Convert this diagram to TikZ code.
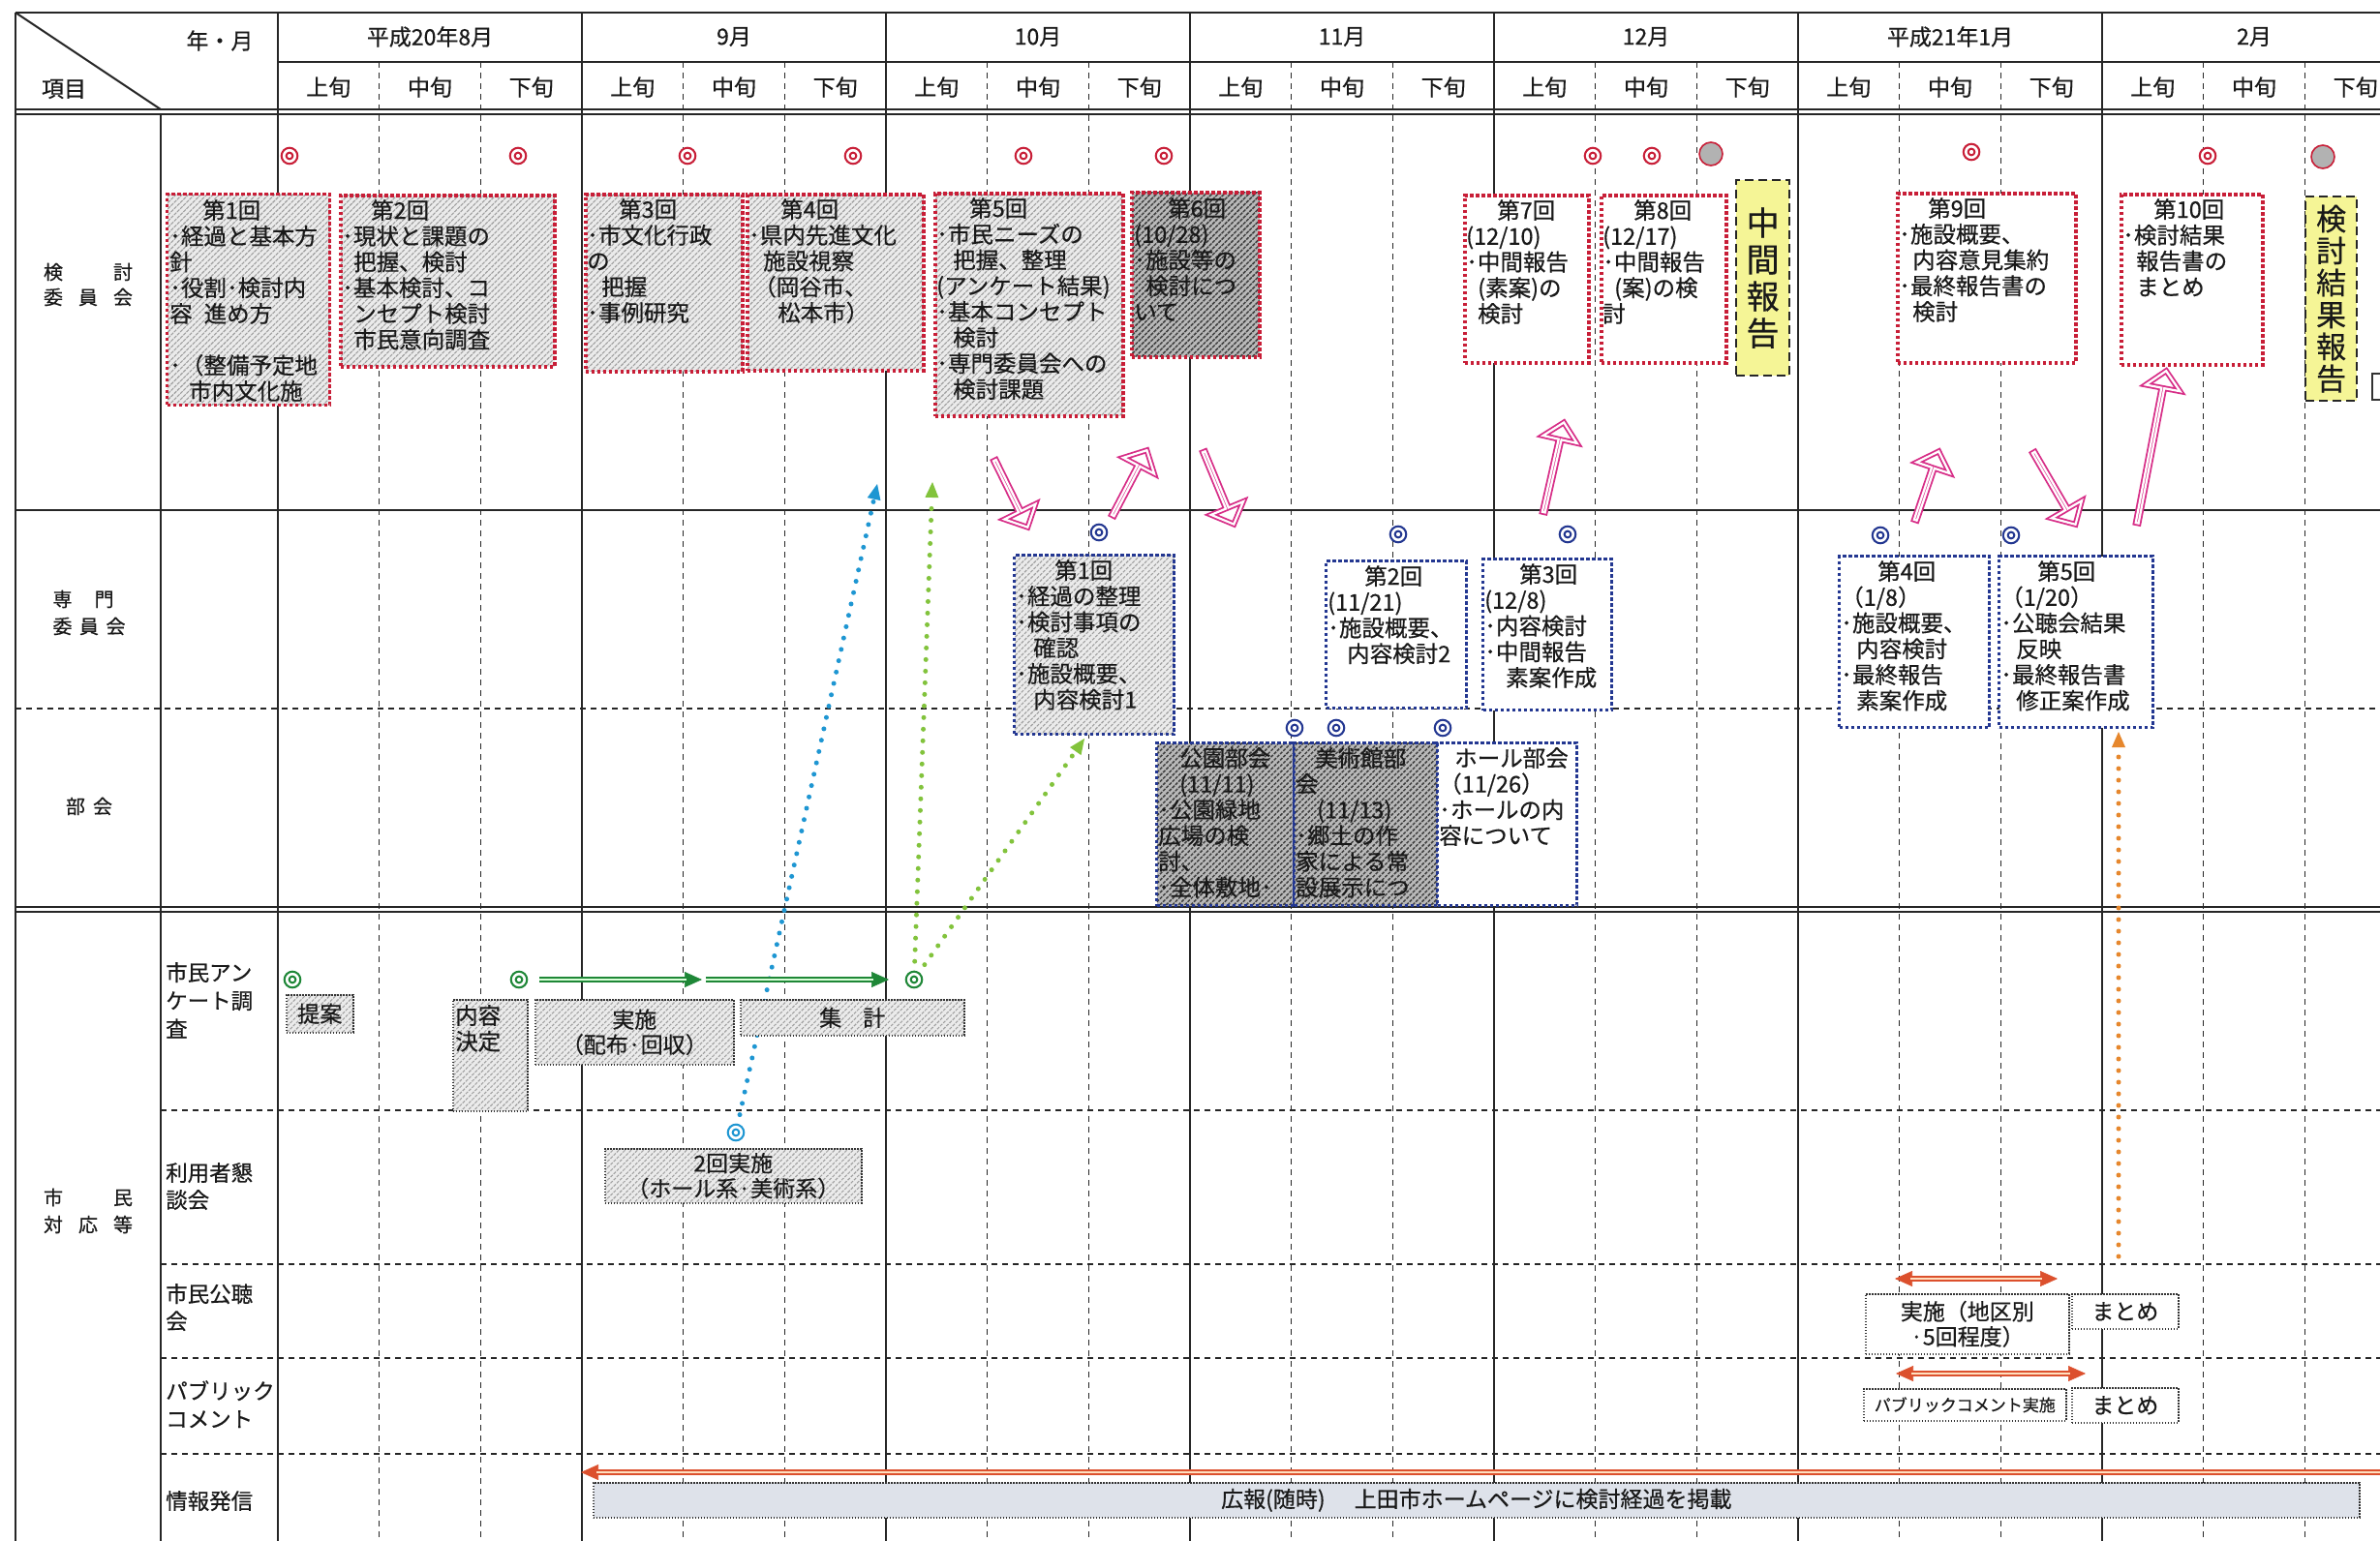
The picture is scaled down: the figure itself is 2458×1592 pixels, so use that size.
\documentclass[tikz,border=0pt]{standalone}
\usepackage{fontspec}
\setmainfont{Noto Sans CJK JP}[FakeBold=0.5]
\usetikzlibrary{patterns.meta,arrows.meta,shapes.arrows,calc}
\pgfdeclarelayer{gridl}\pgfdeclarelayer{conn}
\pgfsetlayers{gridl,conn,main}
\definecolor{redb}{RGB}{200,30,55}
\definecolor{navyb}{RGB}{35,55,145}
\definecolor{pinkc}{RGB}{215,45,135}
\definecolor{dgreen}{RGB}{30,135,55}
\definecolor{lgreen}{RGB}{130,195,60}
\definecolor{cyanc}{RGB}{30,150,210}
\definecolor{orangec}{RGB}{230,135,45}
\definecolor{redor}{RGB}{220,80,45}
\definecolor{yel}{RGB}{245,245,150}
\definecolor{infob}{RGB}{222,226,234}
\newcommand\myfs[2]{\fontsize{#1}{#2}\selectfont}
\newcommand\mkbox[7]{%
 \node[#2, anchor=north west, inner sep=0pt, minimum width={#5-#3}, minimum height={#6-#4}] (#1) at (#3,#4) {};
 \node[txt] (#1t) at ([xshift=3pt,yshift=-6pt]#1.north west) {#7};}
\newcommand\mkcbox[7]{%
 \node[#2, anchor=north west, inner sep=0pt, minimum width={#5-#3}, minimum height={#6-#4}] (#1) at (#3,#4) {};
 \node[ctxt] (#1t) at (#1.center) {#7};}
\begin{document}
\begin{tikzpicture}[x=1pt,y=-1pt,
 solidg/.style={line width=2pt, black!85},
 dashg/.style={line width=1.6pt, black!85, dash pattern=on 6pt off 5pt},
 lbl/.style={font=\myfs{23}{26}, inner sep=0pt, text=black!90},
 rbox/.style={draw=redb, line width=3.5pt, dash pattern=on 3.5pt off 2.5pt},
 bbox/.style={draw=navyb, line width=3.2pt, dash pattern=on 3.2pt off 2.8pt},
 gbox/.style={draw=black!80, line width=1.6pt, dash pattern=on 1.6pt off 1.4pt},
 wf/.style={fill=white},
 hatl/.style={preaction={fill=gray!16}, pattern={Lines[angle=45,distance=4.5pt,line width=1.1pt]}, pattern color=gray!75},
 hatd/.style={preaction={fill=gray!55}, pattern={Lines[angle=45,distance=4.5pt,line width=1.5pt]}, pattern color=black!75},
 ybox/.style={draw=black!85, line width=2.2pt, dash pattern=on 9pt off 5pt, fill=yel},
 txt/.style={font=\myfs{23.5}{26.7}, align=left, inner sep=0pt, anchor=north west, text=black!90},
 ctxt/.style={font=\myfs{23}{26}, align=center, inner sep=0pt, text=black!90},
 mk/.style={circle, inner sep=0pt, minimum size=11.5pt, draw=#1, double=white, double distance=2.6pt, line width=2.2pt, fill=white},
 gcirc/.style={circle, inner sep=0pt, minimum size=24pt, draw=redb, line width=1.6pt, fill=gray!60},
 parr/.style={single arrow, draw=pinkc, double=white, double distance=2.2pt, line width=1.8pt, fill=white, minimum width=36pt, single arrow head extend=10pt, inner sep=0pt},
 cdot/.style={draw=#1, line width=5pt, dash pattern=on 0pt off 12pt, line cap=round, -{Triangle[length=16pt,width=14pt,line width=0pt,fill=#1]}},
]
\path[use as bounding box] (0,0) rectangle (2458,1592);
\clip (0,0) rectangle (2458,1592);
\begin{pgfonlayer}{gridl}
 \fill[white] (0,0) rectangle (2458,1592);
 \draw[solidg] (16,13) -- (2470,13);
 \draw[solidg] (287,64) -- (2470,64);
 \draw[solidg] (16,113) -- (2470,113);
 \draw[solidg] (16,118) -- (2470,118);
 \draw[solidg] (16,527) -- (2470,527);
 \draw[dashg] (16,732) -- (2470,732);
 \draw[solidg] (16,937) -- (2470,937);
 \draw[solidg] (16,942) -- (2470,942);
 \foreach \yy in {1147,1306,1403,1502} \draw[dashg] (166,\yy) -- (2470,\yy);
 \draw[solidg] (16,13) -- (16,1600);
 \draw[solidg] (166,118) -- (166,1600);
 \draw[solidg] (16,13) -- (166,113);
 \foreach \i in {0,...,7} \draw[solidg] ({287+314*\i},13) -- ({287+314*\i},1600);
 \foreach \i in {0,...,6} \foreach \j in {1,2} \draw[dashg] ({287+314*\i+104.67*\j},64) -- ({287+314*\i+104.67*\j},1600);
\end{pgfonlayer}
% header
\node[lbl] (ym) at (227,42) {年・月};
\node[lbl] (kmk) at (66,92) {項目};
\foreach \m [count=\i from 0] in {平成20年8月,9月,10月,11月,12月,平成21年1月,2月}
  \node[lbl] (mon\i) at ({287+314*\i+157},38) {\m};
\foreach \i in {0,...,6} {
  \node[lbl] (ja\i) at ({287+314*\i+52.3},90) {上旬};
  \node[lbl] (jb\i) at ({287+314*\i+157},90) {中旬};
  \node[lbl] (jc\i) at ({287+314*\i+261.7},90) {下旬};
}
% row labels
\node[lbl, font=\myfs{20}{26}] (lk) at (91,294) {\parbox{92pt}{検\hfill 討\\委\hfill 員\hfill 会}};
\node[lbl, font=\myfs{20}{28}] (ls) at (92,633) {\parbox{75pt}{専\hspace{23pt}門\\委\hfill 員\hfill 会}};
\node[lbl, font=\myfs{20}{26}] (lb) at (92,833) {部\hspace{8pt}会};
\node[lbl, font=\myfs{20}{28}] (lc) at (91,1251) {\parbox{92pt}{市\hfill 民\\対\hfill 応\hfill 等}};
\node[txt, font=\myfs{22.5}{29}] (sl1) at (171,994) {市民アン\\ケート調\\査};
\node[txt, font=\myfs{22.5}{28}] (sl2) at (171,1201) {利用者懇\\談会};
\node[txt, font=\myfs{22.5}{28}] (sl3) at (171,1326) {市民公聴\\会};
\node[txt, font=\myfs{22.5}{29}] (sl4) at (171,1426) {パブリック\\コメント};
\node[txt, font=\myfs{22.5}{28}] (sl5) at (171,1540) {情報発信};
% committee boxes
\mkbox{k1}{rbox,hatl}{172}{200}{340}{418}{\hspace*{34pt}第1回\\･経過と基本方\\針\\･役割･検討内\\容\hspace{12pt}進め方\\\mbox{}\\･（整備予定地\\\hspace*{20pt}市内文化施}
\mkbox{k2}{rbox,hatl}{350}{200}{571}{377}{\hspace*{30pt}第2回\\･現状と課題の\\\hspace*{12pt}把握、検討\\･基本検討、コ\\\hspace*{12pt}ンセプト検討\\\hspace*{12pt}市民意向調査}
\mkbox{k3}{rbox,hatl}{603}{199}{765}{382}{\hspace*{33pt}第3回\\･市文化行政\\の\\\hspace*{15pt}把握\\･事例研究}
\mkbox{k4}{rbox,hatl}{770}{199}{952}{381}{\hspace*{33pt}第4回\\･県内先進文化\\\hspace*{15pt}施設視察\\\hspace*{5pt}（岡谷市、\\\hspace*{30pt}松本市）}
\mkbox{k5}{rbox,hatl}{964}{198}{1158}{428}{\hspace*{34pt}第5回\\･市民ニーズの\\\hspace*{17pt}把握、整理\\(アンケート結果)\\･基本コンセプト\\\hspace*{17pt}検討\\･専門委員会への\\\hspace*{17pt}検討課題}
\mkbox{k6}{rbox,hatd}{1168}{198}{1300}{368}{\hspace*{35pt}第6回\\(10/28)\\･施設等の\\\hspace*{12pt}検討につ\\いて}
\mkbox{k7}{rbox,wf}{1511}{200}{1639}{373}{\hspace*{32pt}第7回\\(12/10)\\･中間報告\\\hspace*{12pt}(素案)の\\\hspace*{12pt}検討}
\mkbox{k8}{rbox,wf}{1652}{200}{1781}{373}{\hspace*{32pt}第8回\\(12/17)\\･中間報告\\\hspace*{12pt}(案)の検\\討}
\mkbox{k9}{rbox,wf}{1958}{198}{2142}{373}{\hspace*{30pt}第9回\\･施設概要、\\\hspace*{14pt}内容意見集約\\･最終報告書の\\\hspace*{14pt}検討}
\mkbox{k10}{rbox,wf}{2189}{199}{2335}{375}{\hspace*{32pt}第10回\\･検討結果\\\hspace*{14pt}報告書の\\\hspace*{14pt}まとめ}
\node[ybox, anchor=north west, inner sep=0pt, minimum width=55, minimum height=202] (y1) at (1792,185) {};
\node[ctxt, font=\myfs{34}{38}] (y1t) at (y1.center) {中\\間\\報\\告};
\node[ybox, anchor=north west, inner sep=0pt, minimum width=53, minimum height=211] (y2) at (2380,202) {};
\node[ctxt, font=\myfs{31}{33}] (y2t) at (y2.center) {検\\討\\結\\果\\報\\告};
\node[draw=black!80, line width=1.5pt, fill=white, anchor=north west, inner sep=0pt, minimum width=30pt, minimum height=27pt] (smallb) at (2449,385) {};
% expert committee boxes
\mkbox{s1}{bbox,hatl}{1046}{572}{1211}{757}{\hspace*{40pt}第1回\\･経過の整理\\･検討事項の\\\hspace*{18pt}確認\\･施設概要、\\\hspace*{18pt}内容検討1}
\mkbox{s2}{bbox,wf}{1368}{578}{1513}{730}{\hspace*{38pt}第2回\\(11/21)\\･施設概要、\\\hspace*{20pt}内容検討2}
\mkbox{s3}{bbox,wf}{1530}{576}{1663}{732}{\hspace*{36pt}第3回\\(12/8)\\･内容検討\\･中間報告\\\hspace*{22pt}素案作成}
\mkbox{s4}{bbox,wf}{1898}{573}{2053}{750}{\hspace*{38pt}第4回\\（1/8）\\･施設概要、\\\hspace*{16pt}内容検討\\･最終報告\\\hspace*{16pt}素案作成}
\mkbox{s5}{bbox,wf}{2063}{573}{2222}{750}{\hspace*{38pt}第5回\\（1/20）\\･公聴会結果\\\hspace*{16pt}反映\\･最終報告書\\\hspace*{16pt}修正案作成}
% subcommittee boxes
\mkbox{b1}{bbox,hatd}{1193}{766}{1335}{934}{\hspace*{22pt}公園部会\\\hspace*{22pt}(11/11)\\･公園緑地\\広場の検\\討、\\･全体敷地･}
\mkbox{b2}{bbox,hatd}{1335}{766}{1483}{934}{\hspace*{20pt}美術館部\\会\\\hspace*{22pt}(11/13)\\･郷土の作\\家による常\\設展示につ}
\mkbox{b3}{bbox,wf}{1483}{766}{1627}{934}{\hspace*{16pt}ホール部会\\（11/26）\\･ホールの内\\容について}
% civic boxes
\mkcbox{c1}{gbox,hatl}{295}{1027}{364}{1066}{提案}
\mkbox{c2}{gbox,hatl}{467}{1032}{544}{1147}{内容\\決定}
\mkcbox{c3}{gbox,hatl}{552}{1032}{757}{1099}{実施\\（配布·回収）}
\mkcbox{c4}{gbox,hatl}{764}{1032}{995}{1069}{集\hspace{22pt}計}
\mkcbox{c5}{gbox,hatl}{624}{1186}{889}{1242}{2回実施\\（ホール系·美術系）}
\mkcbox{c6}{gbox,wf}{1926}{1336}{2136}{1398}{実施（地区別\\·5回程度）}
\mkcbox{c7}{gbox,wf}{2139}{1336}{2249}{1372}{まとめ}
\node[gbox, wf, anchor=north west, inner sep=0pt, minimum width=209, minimum height=33] (c8) at (1924,1434) {};
\node[ctxt, font=\myfs{17}{20}] (c8t) at (c8.center) {パブリックコメント実施};
\mkcbox{c9}{gbox,wf}{2139}{1433}{2249}{1469}{まとめ}
\mkcbox{c10}{gbox,fill=infob}{612}{1531}{2436}{1567}{広報(随時)\hspace{30pt}上田市ホームページに検討経過を掲載}
% markers
\foreach \n/\xx/\yy in {1/299/161,2/535/161,3/710/161,4/881/161,5/1057/161,6/1202/161,7/1645/161,8/1706/161,9/2036/157,10/2280/161}
  \node[mk=redb] (rm\n) at (\xx,\yy) {};
\node[gcirc] (gm1) at (1767,159) {};
\node[gcirc] (gm2) at (2399,162) {};
\foreach \n/\xx/\yy in {1/1135/550,2/1444/552,3/1619/552,4/1942/553,5/2077/553,6/1337/752,7/1380/752,8/1490/752}
  \node[mk=navyb] (bm\n) at (\xx,\yy) {};
\foreach \n/\xx in {1/302,2/536,3/944}
  \node[mk=dgreen] (am\n) at (\xx,1012) {};
\node[mk=cyanc] (km) at (760,1170) {};
% dotted connectors
\coordinate (cy2) at (906,500);
\coordinate (gr2) at (963,498);
\coordinate (gr3) at (1120,763);
\coordinate (or1) at (2188,1298);
\coordinate (or2) at (2188,756);
\begin{pgfonlayer}{conn}
 \draw[cdot=cyanc] (km) -- (cy2);
 \draw[cdot=lgreen] (am3) -- (gr2);
 \draw[cdot=lgreen] (am3) -- (gr3);
 \draw[cdot=orangec] (or1) -- (or2);
\end{pgfonlayer}
% green double arrows
\coordinate (ga1) at (557,1012); \coordinate (ga2) at (725,1012);
\coordinate (ga3) at (729,1012); \coordinate (ga4) at (918,1012);
\foreach \a/\b in {ga1/ga2,ga3/ga4} {
  \draw[dgreen, line width=0.6pt, -{Triangle[length=18pt,width=16pt]}] (\a) -- (\b);
  \draw[dgreen, line width=1.8pt, double=green!15, double distance=2.6pt, shorten >=16pt] (\a) -- (\b);
}
% red-orange arrows
\coordinate (ha1) at (1957,1321); \coordinate (ha2) at (2125,1321);
\coordinate (hb1) at (1958,1419); \coordinate (hb2) at (2154,1419);
\foreach \a/\b in {ha1/ha2,hb1/hb2} {
  \draw[redor, line width=0.6pt, {Triangle[length=18pt,width=16pt]}-{Triangle[length=18pt,width=16pt]}] (\a) -- (\b);
  \draw[redor, line width=1.6pt, double=orange!25, double distance=2.6pt, shorten >=16pt, shorten <=16pt] (\a) -- (\b);
}
\coordinate (hc1) at (2475,1521); \coordinate (hc2) at (600,1521);
\draw[redor, line width=0.6pt, -{Triangle[length=18pt,width=16pt]}] (hc1) -- (hc2);
\draw[redor, line width=1.6pt, double=orange!25, double distance=2.6pt, shorten >=16pt] (hc1) -- (hc2);
% pink hollow arrows
\node[parr, minimum height=77pt, rotate=-63.8] (pa1) at (1044,509.5) {};
\node[parr, minimum height=76pt, rotate=62.4] (pa2) at (1166.5,499.5) {};
\node[parr, minimum height=81pt, rotate=-67.5] (pa3) at (1258.5,503.5) {};
\node[parr, minimum height=95pt, rotate=77.3] (pa4) at (1604.5,483.5) {};
\node[parr, minimum height=75pt, rotate=71.3] (pa5) at (1990,502.5) {};
\node[parr, minimum height=86pt, rotate=-59.8] (pa6) at (2121.5,504) {};
\node[parr, minimum height=160pt, rotate=79.2] (pa7) at (2222,462.5) {};
\end{tikzpicture}
\end{document}
